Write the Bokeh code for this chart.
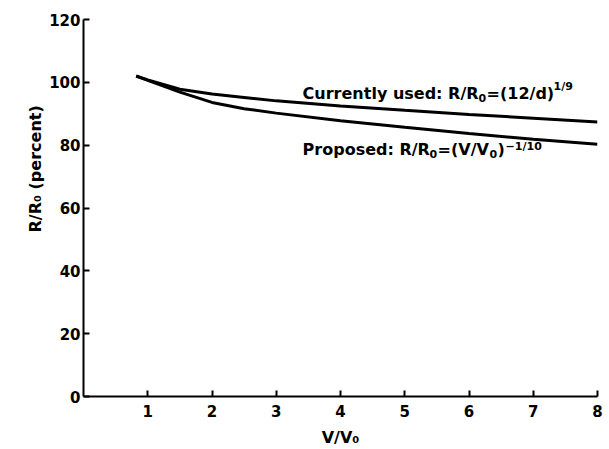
from bokeh.plotting import figure
from bokeh.models import Range1d, FixedTicker, Title
from bokeh.core.properties import value
from bokeh.embed import file_html
from bokeh.resources import INLINE

# ---- data ----
v_ratio = [0.82, 1.0, 1.5, 2.0, 2.5, 3.0, 4.0, 5.0, 6.0, 7.0, 8.0]
current_pct = [102.0, 100.8, 97.8, 96.3, 95.2, 94.1, 92.5, 91.1, 89.8, 88.6, 87.4]
proposed_pct = [102.0, 100.6, 96.9, 93.6, 91.6, 90.2, 87.8, 85.7, 83.7, 81.9, 80.3]
x_ticks = [1, 2, 3, 4, 5, 6, 7, 8]
y_ticks = [0, 20, 40, 60, 80, 100, 120]

FONT = "DejaVu Sans"

p = figure(frame_width=514, frame_height=377,
           x_range=Range1d(0, 8), y_range=Range1d(0, 120),
           output_backend="svg", toolbar_location=None,
           min_border_left=83, min_border_right=10,
           min_border_top=19, min_border_bottom=52)
p.outline_line_color = None
p.grid.visible = False
p.background_fill_color = "white"

for ax in (p.xaxis[0], p.yaxis[0]):
    ax.axis_line_width = 2
    ax.axis_line_color = "black"
    ax.major_tick_line_width = 2
    ax.major_tick_line_color = "black"
    ax.major_tick_in = 6
    ax.major_tick_out = 0
    ax.minor_tick_line_color = None
    ax.major_label_text_font = FONT
    ax.major_label_text_font_style = "bold"
    ax.major_label_text_font_size = "15px"
    ax.major_label_text_color = "black"

p.xaxis[0].ticker = FixedTicker(ticks=x_ticks)
p.xaxis[0].major_label_standoff = 8
p.xaxis[0].axis_label = "V/V₀"
p.xaxis[0].axis_label_text_font = FONT
p.xaxis[0].axis_label_text_font_style = "bold"
p.xaxis[0].axis_label_text_font_size = "16px"
p.xaxis[0].axis_label_text_color = "black"
p.xaxis[0].axis_label_standoff = 8

p.yaxis[0].ticker = FixedTicker(ticks=y_ticks)
p.yaxis[0].major_label_standoff = 3

# y axis label as a left title, shifted up like the original
ytitle = Title(text="R/R₀ (percent)", align="left", offset=164,
               text_font=FONT, text_font_style="bold",
               text_font_size="16px", text_color="black", standoff=4)
p.add_layout(ytitle, "left")

# curves
p.line(v_ratio, current_pct, line_width=3, line_color="black")
p.line(v_ratio, proposed_pct, line_width=3, line_color="black")

# curve annotations built from pieces (main / subscript / superscript)
YPX = 377 / 120.0


def piece(x, y, txt, dx, size, dy_px=0):
    p.text(x=[x], y=[y + dy_px / YPX], text=[txt], x_offset=dx,
           text_font=value(FONT), text_font_style="bold",
           text_font_size=size, text_color="black",
           text_baseline="alphabetic", text_align="left")


lx = 3.41
y1 = 96.4
piece(lx, y1, "Currently used: R/R", 0, "16px")
piece(lx, y1, "0", 176, "11px", -4)
piece(lx, y1, "=(12/d)", 184, "16px")
piece(lx, y1, "1/9", 251, "11px", 7)

y2 = 78.6
piece(lx, y2, "Proposed: R/R", 0, "16px")
piece(lx, y2, "0", 127, "11px", -4)
piece(lx, y2, "=(V/V", 135, "16px")
piece(lx, y2, "0", 187, "11px", -4)
piece(lx, y2, ")", 195, "16px")
piece(lx, y2, "−1/10", 203, "11px", 3)

open("out.html", "w").write(file_html(p, INLINE))
